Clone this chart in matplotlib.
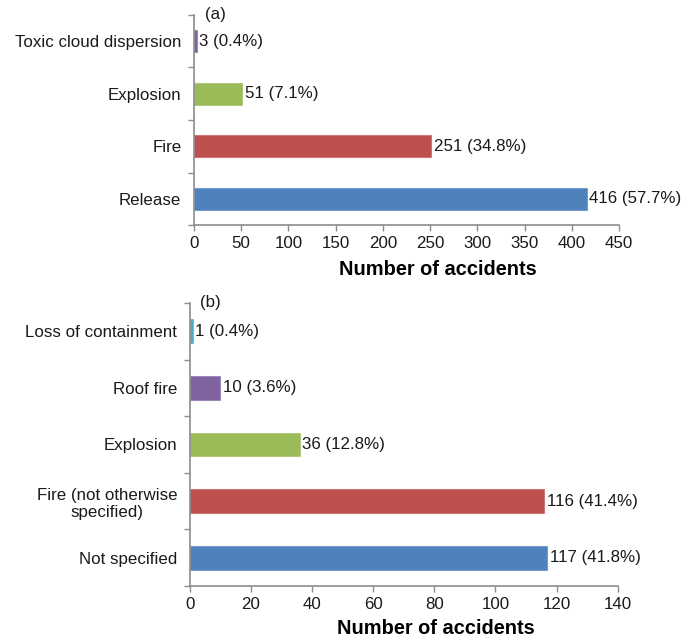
import matplotlib
matplotlib.use("Agg")
import matplotlib.pyplot as plt
import numpy as np

plt.rcParams['font.family'] = ['Liberation Sans', 'DejaVu Sans']

# Panel (a): accident types
cats_a = ["Release", "Fire", "Explosion", "Toxic cloud dispersion"]
vals_a = [416, 251, 51, 3]
pcts_a = [57.7, 34.8, 7.1, 0.4]
cols_a = ["#4F81BD", "#C0504D", "#9BBB59", "#8064A2"]
xticks_a = [0, 50, 100, 150, 200, 250, 300, 350, 400, 450]

# Panel (b): fire / explosion sub-types
cats_b = ["Not specified", "Fire (not otherwise\nspecified)", "Explosion",
          "Roof fire", "Loss of containment"]
vals_b = [117, 116, 36, 10, 1]
pcts_b = [41.8, 41.4, 12.8, 3.6, 0.4]
cols_b = ["#4F81BD", "#C0504D", "#9BBB59", "#8064A2", "#4BACC6"]
xticks_b = [0, 20, 40, 60, 80, 100, 120, 140]

fig = plt.figure(figsize=(6.97, 6.40), dpi=100)
ax_a = fig.add_axes([0.2783, 0.6484, 0.6098, 0.3282])
ax_b = fig.add_axes([0.2722, 0.0844, 0.6140, 0.4422])

spine_col = "#8C8C8C"
text_col = "#1A1A1A"
fs = 12.2


def draw_panel(ax, cats, vals, pcts, cols, xticks, tag, label_y):
    n = len(cats)
    y = np.arange(n)
    ax.barh(y, vals, height=0.42, color=cols,
            edgecolor=[matplotlib.colors.to_rgba(c, 0.55) for c in cols],
            linewidth=0.8)
    for yi, v, p in zip(y, vals, pcts):
        ax.text(v + xticks[-1] * 0.006, yi, f"{v} ({p}%)", va="center",
                ha="left", fontsize=fs, color=text_col)
    ax.set_ylim(-0.5, n - 0.5)
    ax.set_xlim(0, xticks[-1])
    ax.set_xticks(xticks)
    ax.set_xticklabels([str(t) for t in xticks], fontsize=fs, color=text_col)
    ax.set_yticks(y)
    ax.set_yticklabels(cats, fontsize=fs, color=text_col,
                       multialignment="center")
    ax.set_yticks(np.arange(-0.5, n, 1.0), minor=True)
    ax.tick_params(axis="y", which="major", length=0, pad=9)
    ax.tick_params(axis="y", which="minor", length=4, color=spine_col,
                   direction="out", width=1)
    ax.tick_params(axis="x", length=4, color=spine_col, width=1, pad=4)
    for s in ("top", "right"):
        ax.spines[s].set_visible(False)
    for s in ("left", "bottom"):
        ax.spines[s].set_color(spine_col)
        ax.spines[s].set_linewidth(1.2)
    ax.set_xlabel("Number of accidents", fontsize=14.4, fontweight="bold",
                  color="black")
    ax.xaxis.set_label_coords(0.575, label_y)
    ax.text(0.025, 1.0, tag, transform=ax.transAxes, ha="left", va="center",
            fontsize=fs, color=text_col)


draw_panel(ax_a, cats_a, vals_a, pcts_a, cols_a, xticks_a, "(a)", -0.166)
draw_panel(ax_b, cats_b, vals_b, pcts_b, cols_b, xticks_b, "(b)", -0.116)

fig.savefig("out.png", dpi=100, facecolor="white")
